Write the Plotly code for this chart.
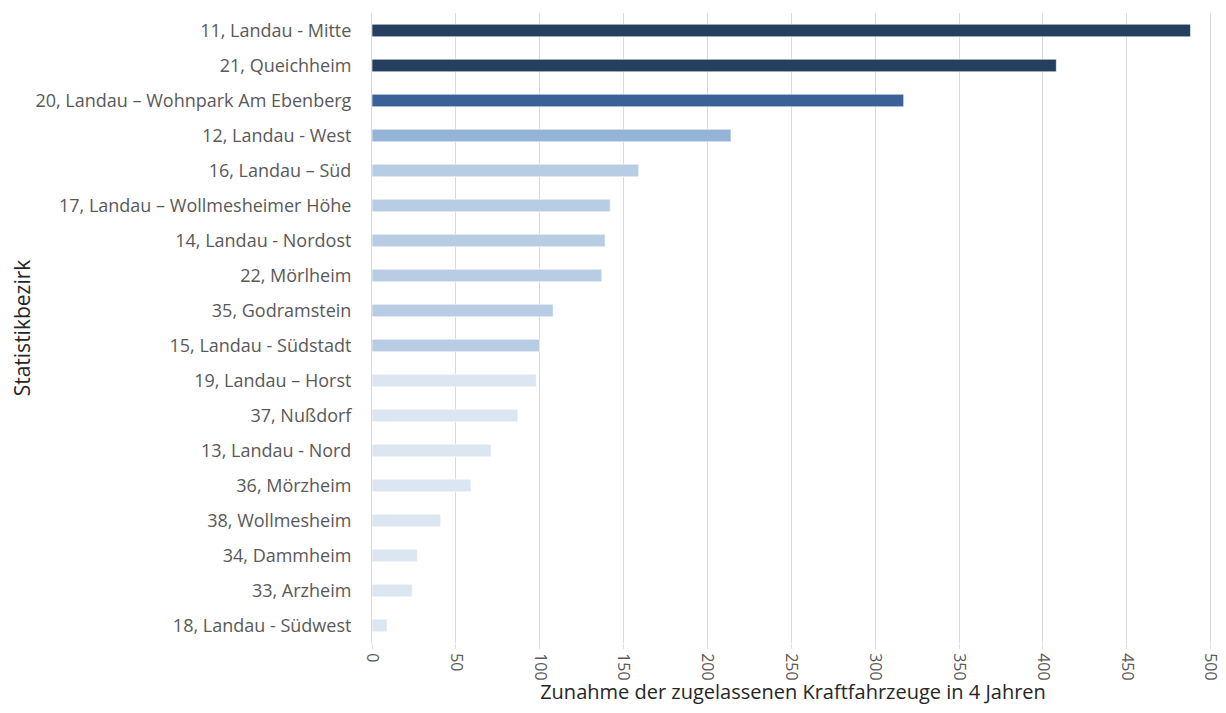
import plotly.graph_objects as go

categories = [
    "11, Landau - Mitte",
    "21, Queichheim",
    "20, Landau – Wohnpark Am Ebenberg",
    "12, Landau - West",
    "16, Landau – Süd",
    "17, Landau – Wollmesheimer Höhe",
    "14, Landau - Nordost",
    "22, Mörlheim",
    "35, Godramstein",
    "15, Landau - Südstadt",
    "19, Landau – Horst",
    "37, Nußdorf",
    "13, Landau - Nord",
    "36, Mörzheim",
    "38, Wollmesheim",
    "34, Dammheim",
    "33, Arzheim",
    "18, Landau - Südwest",
]
values = [488, 408, 317, 214, 159, 142, 139, 137, 108, 100, 98, 87, 71, 59, 41, 27, 24, 9]
colors = ["#243F60", "#243F60", "#3A6296", "#95B3D7",
          "#B8CCE4", "#B8CCE4", "#B8CCE4", "#B8CCE4", "#B8CCE4", "#B8CCE4",
          "#DCE6F2", "#DCE6F2", "#DCE6F2", "#DCE6F2", "#DCE6F2", "#DCE6F2", "#DCE6F2", "#DCE6F2"]
x_ticks = [0, 50, 100, 150, 200, 250, 300, 350, 400, 450, 500]

font_family = "'Open Sans', sans-serif"
text_color = "#595959"

fig = go.Figure(go.Bar(
    x=values,
    y=categories,
    orientation="h",
    width=0.36,
    marker=dict(color=colors, line=dict(color="rgba(255,255,255,0.6)", width=1)),
))

fig.update_layout(
    width=1218, height=697,
    margin=dict(l=364, r=12, t=4.5, b=61.5),
    paper_bgcolor="white", plot_bgcolor="white",
    showlegend=False,
    font=dict(family=font_family, color=text_color, size=16),
    xaxis=dict(
        range=[0, 502],
        tickvals=x_ticks,
        ticktext=[str(t) for t in x_ticks],
        tickangle=90,
        tickfont=dict(size=16, color=text_color),
        ticklabeloverflow="allow",
        showgrid=True, gridcolor="#D9D9D9", gridwidth=1,
        zeroline=False,
        ticks="outside", ticklen=5, tickcolor="#E0E0E0",
        ticklabelstandoff=1,
        automargin=False,
        title=dict(text="Zunahme der zugelassenen Kraftfahrzeuge in 4 Jahren",
                   font=dict(size=20, color="#262626"), standoff=8),
    ),
    yaxis=dict(
        categoryorder="array",
        categoryarray=categories[::-1],
        tickfont=dict(size=18, color=text_color),
        showline=True, linecolor="#D9D9D9", linewidth=1,
        ticks="", ticklabelstandoff=16,
        automargin=False,
        title=dict(text="Statistikbezirk", font=dict(size=21, color="#262626"), standoff=16),
    ),
)

fig.write_html("out.html")
